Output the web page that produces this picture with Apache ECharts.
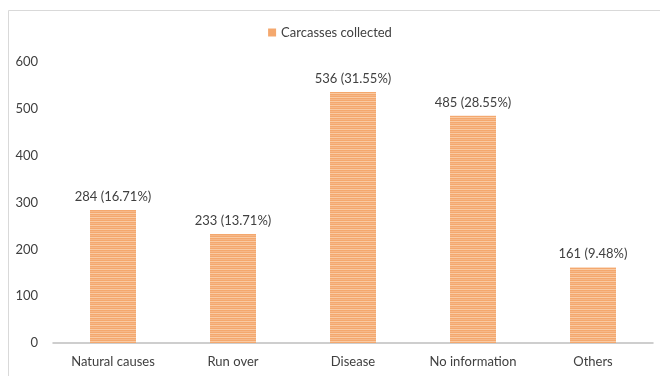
<!DOCTYPE html>
<html>
<head>
<meta charset="utf-8">
<script src="https://cdn.jsdelivr.net/npm/echarts@6/dist/echarts.min.js"></script>
<style>
  html, body { margin: 0; padding: 0; background: #fff; }
  #chart { width: 660px; height: 376px; }
</style>
</head>
<body>
<div id="chart"></div>
<script>
// data
var categories = ['Natural causes', 'Run over', 'Disease', 'No information', 'Others'];
var carcasses = [284, 233, 536, 485, 161];
var shares = ['16.71%', '13.71%', '31.55%', '28.55%', '9.48%'];
var yTicks = [0, 100, 200, 300, 400, 500, 600];

// striped fill like the original bars
function stripes() {
  var c = document.createElement('canvas');
  c.width = 4;
  c.height = 4;
  var ctx = c.getContext('2d');
  ctx.fillStyle = '#F4A86E';
  ctx.fillRect(0, 0, 4, 4);
  ctx.fillStyle = '#F9CBA4';
  ctx.fillRect(0, 1, 4, 1);
  ctx.fillStyle = '#F6B889';
  ctx.fillRect(0, 3, 4, 1);
  return c;
}

var chart = echarts.init(document.getElementById('chart'), null, { renderer: 'canvas' });
var font = 'Lato, "Open Sans", sans-serif';

var option = {
  backgroundColor: '#ffffff',
  animation: false,
  textStyle: { fontFamily: font },
  graphic: [{
    type: 'rect',
    shape: { x: 8.5, y: 10.5, width: 700, height: 400 },
    style: { fill: 'none', stroke: '#d9d9d9', lineWidth: 1 },
    silent: true
  }],
  legend: {
    top: 21,
    left: 'center',
    itemWidth: 8,
    itemHeight: 8,
    itemGap: 6,
    icon: 'rect',
    textStyle: { color: '#404040', fontSize: 13, fontFamily: font },
    data: [{ name: 'Carcasses collected', itemStyle: { color: '#F4A86E' } }]
  },
  grid: { left: 53, right: 7, top: 62, bottom: 33 },
  xAxis: {
    type: 'category',
    data: categories,
    axisLine: { lineStyle: { color: '#bfbfbf', width: 1.5 } },
    axisTick: { show: false },
    axisLabel: { color: '#404040', fontSize: 13, margin: 12, fontFamily: font }
  },
  yAxis: {
    type: 'value',
    min: yTicks[0],
    max: yTicks[yTicks.length - 1],
    interval: 100,
    splitLine: { show: false },
    axisLine: { show: false },
    axisTick: { show: false },
    axisLabel: { color: '#404040', fontSize: 13, margin: 15, fontFamily: font }
  },
  series: [{
    name: 'Carcasses collected',
    type: 'bar',
    barWidth: 46,
    data: carcasses,
    itemStyle: { color: { image: stripes(), repeat: 'repeat' } },
    label: {
      show: true,
      position: 'top',
      distance: 7,
      color: '#404040',
      fontSize: 13,
      fontFamily: font,
      formatter: function (p) { return p.value + ' (' + shares[p.dataIndex] + ')'; }
    }
  }]
};

chart.setOption(option);
</script>
</body>
</html>
